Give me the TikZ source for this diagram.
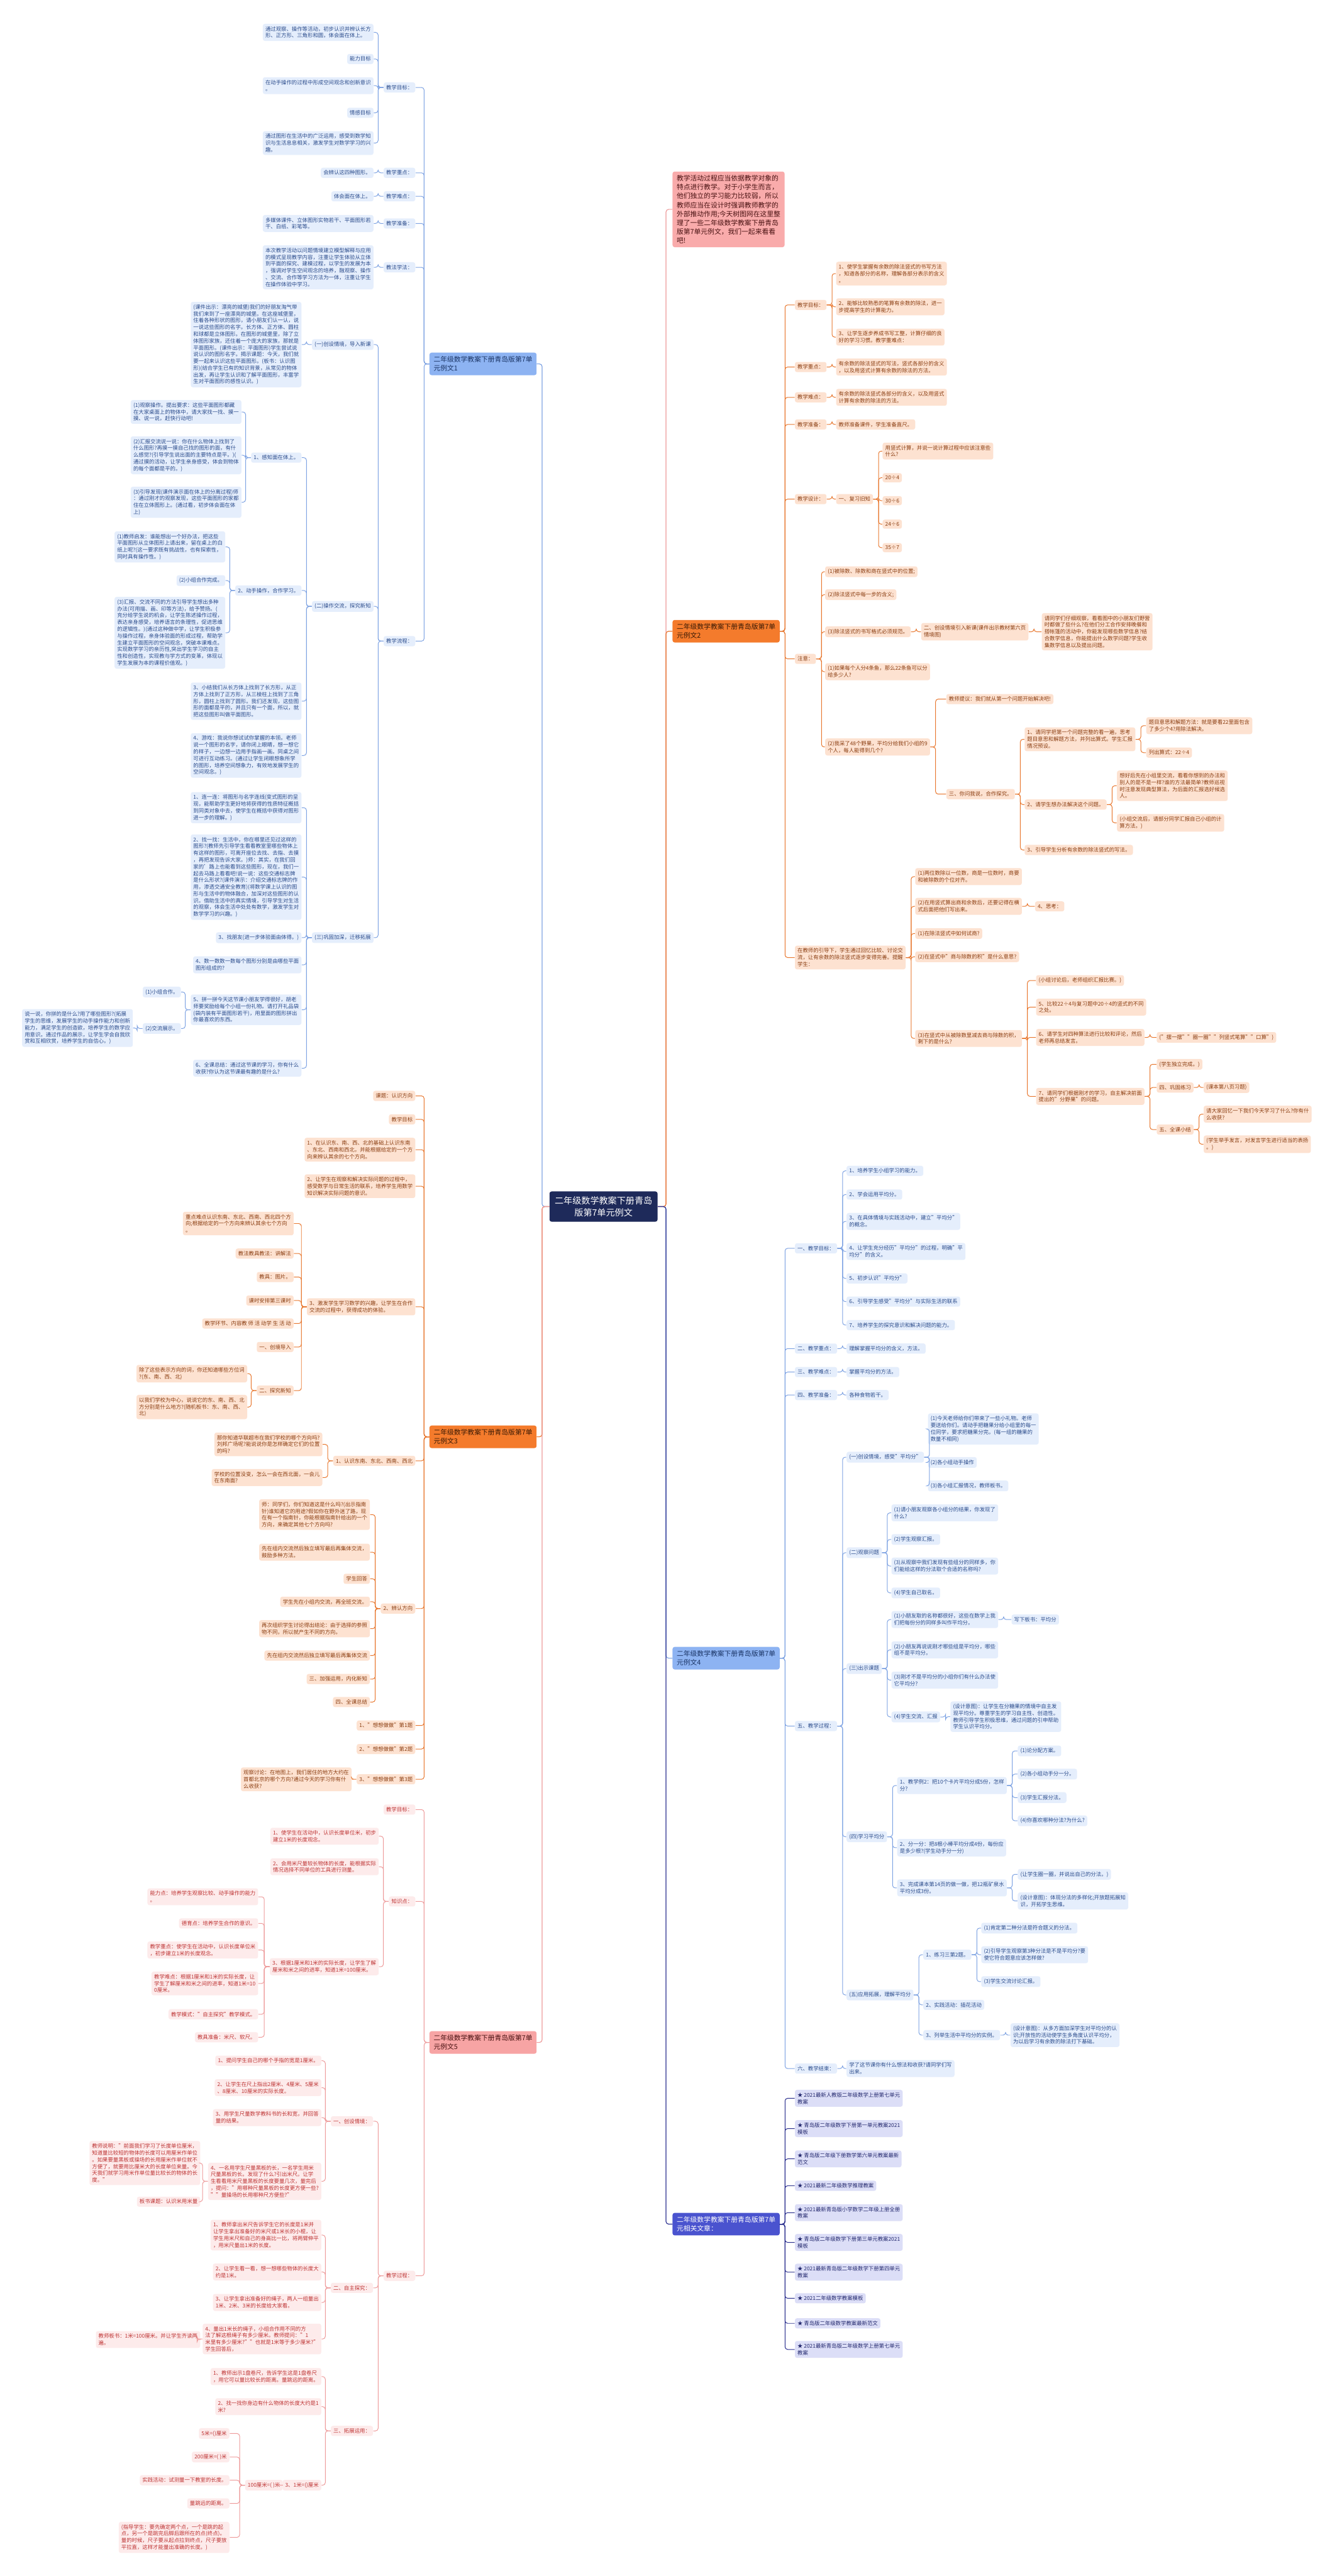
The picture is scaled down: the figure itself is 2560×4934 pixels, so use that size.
\documentclass[tikz,border=0pt]{standalone}
\usepackage{fontspec}
\setmainfont{Noto Sans CJK SC}
\definecolor{blueBr}{HTML}{8DB3F2}
\definecolor{blueBrTxt}{HTML}{1B3566}
\definecolor{blueBox}{HTML}{E5EEFC}
\definecolor{blueTxt}{HTML}{2B4C8C}
\definecolor{blueLn}{HTML}{7EA3E3}
\definecolor{orBr}{HTML}{F47B2C}
\definecolor{orBrTxt}{HTML}{3A1A05}
\definecolor{orBox}{HTML}{FDE2D1}
\definecolor{orTxt}{HTML}{8B3E12}
\definecolor{orLn}{HTML}{E8772E}
\definecolor{pkBr}{HTML}{F7A4A4}
\definecolor{pkBrTxt}{HTML}{4A1212}
\definecolor{pkBox}{HTML}{FDEBEB}
\definecolor{pkTxt}{HTML}{BE3434}
\definecolor{pkLn}{HTML}{EE9B9B}
\definecolor{vlBr}{HTML}{4A53CF}
\definecolor{vlBox}{HTML}{DCDEF7}
\definecolor{vlTxt}{HTML}{23286E}
\definecolor{vlLn}{HTML}{2A2F8E}
\definecolor{rootBox}{HTML}{1E2A5A}
\definecolor{introBox}{HTML}{F9ABAB}
\newcommand{\nodefont}{\fontsize{10.1pt}{13pt}\selectfont}
\newcommand{\leftlink}[2]{\draw[rounded corners=5pt] (#1.west) -- ++(-10,0) |- (#2.east);}
\newcommand{\rightlink}[2]{\draw[rounded corners=5pt] (#1.east) -- ++(10,0) |- (#2.west);}
\tikzset{
  box/.style={rounded corners=4pt, inner xsep=5pt, inner ysep=5pt, align=left, font=\nodefont},
  lside/.style={box, anchor=east},
  rside/.style={box, anchor=west},
  bl/.style={fill=blueBox, text=blueTxt},
  og/.style={fill=orBox, text=orTxt},
  pk/.style={fill=pkBox, text=pkTxt},
  vl/.style={fill=vlBox, text=vlTxt},
  brbox/.style={rounded corners=4pt, inner xsep=8pt, inner ysep=7pt, align=left, font=\fontsize{13pt}{17pt}\selectfont},
  rootbox/.style={rounded corners=4pt, inner sep=10pt, align=center, fill=rootBox, text=white, font=\fontsize{17pt}{22pt}\selectfont},
}
\begin{document}
\begin{tikzpicture}[x=1pt,y=-1pt]
\fill[white] (0,0) rectangle (2560,4934);
\useasboundingbox (0,0) rectangle (2560,4934);
% root and branches
\node[rootbox] (root) at (1156,2311) {二年级数学教案下册青岛\\版第7单元例文};
\node[brbox, anchor=east, fill=blueBr, text=blueBrTxt] (A) at (1028,697) {二年级数学教案下册青岛版第7单\\元例文1};
\node[brbox, anchor=east, fill=orBr, text=orBrTxt] (C) at (1028,2752) {二年级数学教案下册青岛版第7单\\元例文3};
\node[brbox, anchor=east, fill=pkBr, text=pkBrTxt] (E) at (1028,3912) {二年级数学教案下册青岛版第7单\\元例文5};
\node[brbox, anchor=west, fill=introBox, text=pkBrTxt] (I) at (1288,401) {教学活动过程应当依据教学对象的\\特点进行教学。对于小学生而言，\\他们独立的学习能力比较弱，所以\\教师应当在设计时强调教师教学的\\外部推动作用;今天树图网在这里整\\理了一些二年级数学教案下册青岛\\版第7单元例文，我们一起来看看\\吧!};
\node[brbox, anchor=west, fill=orBr, text=orBrTxt] (B) at (1288,1209) {二年级数学教案下册青岛版第7单\\元例文2};
\node[brbox, anchor=west, fill=blueBr, text=blueBrTxt] (D) at (1288,3176) {二年级数学教案下册青岛版第7单\\元例文4};
\node[brbox, anchor=west, fill=vlBr, text=white] (F) at (1288,4260) {二年级数学教案下册青岛版第7单\\元相关文章：};
\begin{scope}[line width=1.4pt]
\draw[blueLn, rounded corners=5pt] (root.west) -- ++(-14,0) |- (A.east);
\draw[orLn, rounded corners=5pt] (root.west) -- ++(-14,0) |- (C.east);
\draw[pkLn, rounded corners=5pt] (root.west) -- ++(-14,0) |- (E.east);
\draw[pkLn, rounded corners=5pt] (root.east) -- ++(16,0) |- (I.west);
\draw[orLn, rounded corners=5pt] (root.east) -- ++(16,0) |- (B.west);
\draw[blueLn, rounded corners=5pt] (root.east) -- ++(16,0) |- (D.west);
\draw[vlLn, rounded corners=5pt] (root.east) -- ++(16,0) |- (F.west);
\end{scope}

% example 1
\begin{scope}[color=blueLn, line width=1.2pt]
\node[lside,bl] (a1) at (796,167.5) {教学目标：};
\node[lside,bl] (a11) at (716,62) {通过观察、操作等活动，初步认识并辨认长方\\形、正方形、三角形和圆，体会面在体上。};
\node[lside,bl] (a12) at (716,113) {能力目标};
\node[lside,bl] (a13) at (716,164) {在动手操作的过程中形成空间观念和创新意识\\。};
\node[lside,bl] (a14) at (716,216) {情感目标};
\node[lside,bl] (a15) at (716,274) {通过图形在生活中的广泛运用，感受到数学知\\识与生活息息相关，激发学生对数学学习的兴\\趣。};
\node[lside,bl] (a2) at (796,331) {教学重点：};
\node[lside,bl] (a21) at (716,331) {会辨认这四种图形。};
\node[lside,bl] (a3) at (796,376) {教学难点：};
\node[lside,bl] (a31) at (716,376) {体会面在体上。};
\node[lside,bl] (a4) at (796,428) {教学准备：};
\node[lside,bl] (a41) at (716,428) {多媒体课件、立体图形实物若干、平面图形若\\干、白纸、彩笔等。};
\node[lside,bl] (a5) at (796,512) {教法学法：};
\node[lside,bl] (a51) at (716,512) {本次教学活动以问题情境建立模型解释与应用\\的模式呈现教学内容，注重让学生体验从立体\\到平面的探究、建模过程，以学生的发展为本\\，强调对学生空间观念的培养，融观察、操作\\、交流、合作等学习方法为一体，注重让学生\\在操作体验中学习。};
\node[lside,bl] (a6) at (796,1228) {教学流程：};
\node[lside,bl] (a61) at (716,660) {(一)创设情境，导入新课};
\node[lside,bl] (a611) at (578,660) {(课件出示：漂亮的城堡)我们的好朋友淘气带\\我们来到了一座漂亮的城堡。在这座城堡里，\\住着各种形状的图形，请小朋友们认一认，说\\一说这些图形的名字。长方体、正方体、圆柱\\和球都是立体图形。在图形的城堡里，除了立\\体图形家族，还住着一个庞大的家族，那就是\\平面图形。(课件出示：平面图形)学生尝试说\\说认识的图形名字。揭示课题：今天，我们就\\要一起来认识这些平面图形。(板书：认识图\\形)(结合学生已有的知识背景，从常见的物体\\出发，再让学生认识和了解平面图形，丰富学\\生对平面图形的感性认识。)};
\node[lside,bl] (a62) at (716,1161.5) {(二)操作交流，探究新知};
\node[lside,bl] (a621) at (578,876.5) {1、感知面在体上。};
\node[lside,bl] (a6211) at (463,789) {(1)观察操作。提出要求：这些平面图形都藏\\在大家桌面上的物体中，请大家找一找、摸一\\摸、说一说，赶快行动吧!};
\node[lside,bl] (a6212) at (463,872) {(2)汇报交流说一说：你在什么物体上找到了\\什么图形?再摸一摸自己找的图形的面，有什\\么感觉?(引导学生说出面的主要特点是平。)(\\通过摸的活动，让学生亲身感受，体会到物体\\的每个面都是平的。)};
\node[lside,bl] (a6213) at (463,962) {(3)引导发现(课件演示面在体上的分离过程)师\\：通过刚才的观察发现，这些平面图形的家都\\住在立体图形上。(通过看，初步体会面在体\\上)};
\node[lside,bl] (a622) at (578,1131) {2、动手操作，合作学习。};
\node[lside,bl] (a6221) at (432,1047.5) {(1)教师启发：谁能想出一个好办法，把这些\\平面图形从立体图形上请出来，留在桌上的白\\纸上呢?(这一要求既有挑战性，也有探索性，\\同时具有操作性。)};
\node[lside,bl] (a6222) at (432,1112) {(2)小组合作完成。};
\node[lside,bl] (a6223) at (432,1212) {(3)汇报、交流不同的方法引导学生想出多种\\办法(可用描、画、印等方法)，给予赞扬。(\\充分给学生说的机会，让学生陈述操作过程，\\表达亲身感受，培养语言的条理性，促进思维\\的逻辑性。)(通过这种做中学，让学生积极参\\与操作过程，亲身体验面的形成过程，帮助学\\生建立平面图形的空间观念，突破本课难点。\\实现数学学习的亲历性,突出学生学习的自主\\性和创造性，实现教与学方式的变革，体现以\\学生发展为本的课程价值观。)};
\node[lside,bl] (a623) at (578,1343) {3、小结我们从长方体上找到了长方形，从正\\方体上找到了正方形，从三棱柱上找到了三角\\形，圆柱上找到了圆形。我们还发现，这些图\\形的面都是平的，并且只有一个面，所以，就\\把这些图形叫做平面图形。};
\node[lside,bl] (a624) at (578,1447) {4、游戏：我说你想试试你掌握的本领。老师\\说一个图形的名字，请你闭上眼睛，想一想它\\的样子，一边想一边用手指画一画。同桌之间\\可进行互动练习。(通过让学生闭眼想象所学\\的图形，培养空间想象力，有效地发展学生的\\空间观念。)};
\node[lside,bl] (a63) at (716,1796) {(三)巩固加深，迁移拓展};
\node[lside,bl] (a631) at (578,1547) {1、连一连：将图形与名字连线(变式图形的呈\\现，能帮助学生更好地将获得的性质特征概括\\到同类对象中去，使学生在概括中获得对图形\\进一步的理解。)};
\node[lside,bl] (a632) at (578,1680) {2、找一找：生活中，你在哪里还见过这样的\\图形?(教师先引导学生看看教室里哪些物体上\\有这样的图形，可离开座位去找、去指、去摸\\，再把发现告诉大家。)师：其实，在我们回\\家的'路上也能看到这些图形，现在，我们一\\起去马路上看看吧!说一说：这些交通标志牌\\是什么形状?(课件演示：介绍交通标志牌的作\\用，渗透交通安全教育)(将数学课上认识的图\\形与生活中的物体融合，加深对这些图形的认\\识。借助生活中的真实情境，引导学生对生活\\的观察，体会生活中处处有数学，激发学生对\\数学学习的兴趣。)};
\node[lside,bl] (a633) at (578,1796) {3、找朋友(进一步体验面由体得。)};
\node[lside,bl] (a634) at (578,1848) {4、数一数数一数每个图形分别是由哪些平面\\图形组成的?};
\node[lside,bl] (a635) at (578,1934) {5、拼一拼今天这节课小朋友学得很好，胡老\\师要奖励给每个小组一份礼物。请打开礼品袋\\(袋内装有平面图形若干)，用里面的图形拼出\\你最喜欢的东西。};
\node[lside,bl] (a6351) at (347,1900) {(1)小组合作。};
\node[lside,bl] (a6352) at (347,1970) {(2)交流展示。};
\node[lside,bl] (a63521) at (255,1969) {说一说，你拼的是什么?用了哪些图形?(拓展\\学生的思维，发展学生的动手操作能力和创新\\能力，满足学生的创造欲，培养学生的数学应\\用意识。通过作品的展示，让学生学会自我欣\\赏和互相欣赏，培养学生的自信心。)};
\node[lside,bl] (a636) at (578,2046) {6、全课总结：通过这节课的学习，你有什么\\收获?你认为这节课最有趣的是什么?};
\leftlink{A}{a1} \leftlink{A}{a2} \leftlink{A}{a3} \leftlink{A}{a4} \leftlink{A}{a5} \leftlink{A}{a6}
\leftlink{a1}{a11} \leftlink{a1}{a12} \leftlink{a1}{a13} \leftlink{a1}{a14} \leftlink{a1}{a15}
\leftlink{a2}{a21} \leftlink{a3}{a31} \leftlink{a4}{a41} \leftlink{a5}{a51}
\leftlink{a6}{a61} \leftlink{a6}{a62} \leftlink{a6}{a63}
\leftlink{a61}{a611}
\leftlink{a62}{a621} \leftlink{a62}{a622} \leftlink{a62}{a623} \leftlink{a62}{a624}
\leftlink{a621}{a6211} \leftlink{a621}{a6212} \leftlink{a621}{a6213}
\leftlink{a622}{a6221} \leftlink{a622}{a6222} \leftlink{a622}{a6223}
\leftlink{a63}{a631} \leftlink{a63}{a632} \leftlink{a63}{a633} \leftlink{a63}{a634} \leftlink{a63}{a635} \leftlink{a63}{a636}
\leftlink{a635}{a6351} \leftlink{a635}{a6352} \leftlink{a6352}{a63521}
\end{scope}

% example 3
\begin{scope}[color=orLn, line width=1.2pt]
\node[lside,og] (c1) at (796,2099) {课题：认识方向};
\node[lside,og] (c2) at (796,2144) {教学目标};
\node[lside,og] (c3) at (796,2202) {1、在认识东、南、西、北的基础上认识东南\\、东北、西南和西北，并能根据给定的一个方\\向来辨认其余的七个方向。};
\node[lside,og] (c4) at (796,2272) {2、让学生在观察和解决实际问题的过程中，\\感受数学与日常生活的联系，培养学生用数学\\知识解决实际问题的意识。};
\node[lside,og] (c5) at (796,2503) {3、激发学生学习数学的兴趣，让学生在合作\\交流的过程中，获得成功的体验。};
\node[lside,og] (c51) at (563,2343.5) {重点难点认识东南、东北、西南、西北四个方\\向;根据给定的一个方向来辨认其余七个方向\\。};
\node[lside,og] (c52) at (563,2401) {教法教具教法：讲解法};
\node[lside,og] (c53) at (563,2446) {教具：图片。};
\node[lside,og] (c54) at (563,2491) {课时安排第三课时};
\node[lside,og] (c55) at (563,2535) {教学环节、内容教 师 活 动学 生 活 动};
\node[lside,og] (c56) at (563,2580) {一、创境导入};
\node[lside,og] (c57) at (563,2663.5) {二、探究新知};
\node[lside,og] (c571) at (474,2631) {除了这些表示方向的词，你还知道哪些方位词\\?(东、南、西、北)};
\node[lside,og] (c572) at (474,2695) {以我们学校为中心，说说它的东、南、西、北\\方分别是什么地方?(随机板书：东、南、西、\\北)};
\node[lside,og] (c6) at (796,2798) {1、认识东南、东北、西南、西北};
\node[lside,og] (c61) at (618,2766.5) {那你知道华联超市在我们学校的哪个方向吗?\\刘邦广场呢?能说说你是怎样确定它们的位置\\的吗?};
\node[lside,og] (c62) at (618,2830) {学校的位置没变，怎么一会在西北面，一会儿\\在东南面?};
\node[lside,og] (c7) at (796,3081) {2、辨认方向};
\node[lside,og] (c71) at (709,2901) {师：同学们，你们知道这是什么吗?(出示指南\\针)谁知道它的用途?假如你在野外迷了路，现\\在有一个指南针，你能根据指南针给出的一个\\方向，来确定其他七个方向吗?};
\node[lside,og] (c72) at (709,2973) {先在组内交流然后独立填写最后再集体交流，\\鼓励多种方法。};
\node[lside,og] (c73) at (709,3024) {学生回答};
\node[lside,og] (c74) at (709,3068) {学生先在小组内交流，再全班交流。};
\node[lside,og] (c75) at (709,3119.5) {再次组织学生讨论得出结论：由于选择的参照\\物不同，所以就产生不同的方向。};
\node[lside,og] (c76) at (709,3171) {先在组内交流然后独立填写最后再集体交流};
\node[lside,og] (c77) at (709,3216) {三、加强运用，内化新知};
\node[lside,og] (c78) at (709,3260) {四、全课总结};
\node[lside,og] (c8) at (796,3305) {1、"想想做做"第1题};
\node[lside,og] (c9) at (796,3350) {2、"想想做做"第2题};
\node[lside,og] (c10) at (796,3408) {3、"想想做做"第3题};
\node[lside,og] (c101) at (674,3408) {观察讨论：在地图上，我们居住的地方大约在\\首都北京的哪个方向?通过今天的学习你有什\\么收获?};
\leftlink{C}{c1} \leftlink{C}{c2} \leftlink{C}{c3} \leftlink{C}{c4} \leftlink{C}{c5}
\leftlink{C}{c6} \leftlink{C}{c7} \leftlink{C}{c8} \leftlink{C}{c9} \leftlink{C}{c10}
\leftlink{c5}{c51} \leftlink{c5}{c52} \leftlink{c5}{c53} \leftlink{c5}{c54} \leftlink{c5}{c55} \leftlink{c5}{c56} \leftlink{c5}{c57}
\leftlink{c57}{c571} \leftlink{c57}{c572}
\leftlink{c6}{c61} \leftlink{c6}{c62}
\leftlink{c7}{c71} \leftlink{c7}{c72} \leftlink{c7}{c73} \leftlink{c7}{c74} \leftlink{c7}{c75} \leftlink{c7}{c76} \leftlink{c7}{c77} \leftlink{c7}{c78}
\leftlink{c10}{c101}
\end{scope}

% example 5
\begin{scope}[color=pkLn, line width=1.2pt]
\node[lside,pk] (e1) at (796,3466) {教学目标：};
\node[lside,pk] (e2) at (796,3642) {知识点：};
\node[lside,pk] (e21) at (726,3517) {1、使学生在活动中，认识长度单位米，初步\\建立1米的长度观念。};
\node[lside,pk] (e22) at (726,3575.5) {2、会用米尺量较长物体的长度，能根据实际\\情况选择不同单位的工具进行测量。};
\node[lside,pk] (e23) at (726,3767) {3、根据1厘米和1米的实际长度，让学生了解\\厘米和米之间的进率，知道1米=100厘米。};
\node[lside,pk] (e231) at (495,3633) {能力点：培养学生观察比较、动手操作的能力\\。};
\node[lside,pk] (e232) at (495,3684) {德育点：培养学生合作的意识。};
\node[lside,pk] (e233) at (495,3735) {教学重点：使学生在活动中，认识长度单位米\\，初步建立1米的长度观念。};
\node[lside,pk] (e234) at (495,3799) {教学难点：根据1厘米和1米的实际长度，让\\学生了解厘米和米之间的进率，知道1米=10\\0厘米。};
\node[lside,pk] (e235) at (495,3858) {教学模式："自主探究"教学模式。};
\node[lside,pk] (e236) at (495,3902) {教具准备：米尺、软尺。};
\node[lside,pk] (e3) at (796,4359) {教学过程：};
\node[lside,pk] (e31) at (715,4063) {一、创设情境：};
\node[lside,pk] (e311) at (616,3947) {1、提问学生自己的哪个手指的宽是1厘米。};
\node[lside,pk] (e312) at (616,3998.6) {2、让学生在尺上指出2厘米、4厘米、5厘米\\、8厘米、10厘米的实际长度。};
\node[lside,pk] (e313) at (616,4056) {3、用学生尺量数学教科书的长和宽，并回答\\量的结果。};
\node[lside,pk] (e314) at (616,4178) {4、一名用学生尺量黑板的长，一名学生用米\\尺量黑板的长。发现了什么?引出米尺。让学\\生看看用米尺量黑板的长度要量几次，量完后\\，提问："用哪种尺量黑板的长度更方便一些?\\""量操场的长用哪种尺方便些?"};
\node[lside,pk] (e3141) at (384,4143) {教师说明："前面我们学习了长度单位厘米，\\知道量比较短的物体的长度可以用厘米作单位\\。如果要量黑板或操场的长用厘米作单位就不\\方便了，就要用比厘米大的长度单位来量。今\\天我们就学习用米作单位量比较长的物体的长\\度。"};
\node[lside,pk] (e3142) at (384,4217) {板书课题：认识米用米量};
\node[lside,pk] (e32) at (715,4382) {二、自主探究：};
\node[lside,pk] (e321) at (616,4281) {1、教师拿出米尺告诉学生它的长度是1米并\\让学生拿出准备好的米尺或1米长的小棍，让\\学生用米尺和自己的身高比一比，将两臂伸平\\，用米尺量出1米的长度。};
\node[lside,pk] (e322) at (616,4351.6) {2、让学生看一看，想一想哪些物体的长度大\\约是1米。};
\node[lside,pk] (e323) at (616,4410) {3、让学生拿出准备好的绳子，两人一组量出\\1米、2米、3米的长度给大家看。};
\node[lside,pk] (e324) at (616,4480) {4、量出1米长的绳子，小组合作用不同的方\\法了解这根绳子有多少厘米。教师提问："1\\米里有多少厘米?""也就是1米等于多少厘米?"\\学生回答后，};
\node[lside,pk] (e3241) at (384,4481) {教师板书：1米=100厘米。并让学生齐读两\\遍。};
\node[lside,pk] (e33) at (715,4656) {三、拓展运用：};
\node[lside,pk] (e331) at (616,4552) {1、教师出示1盘卷尺，告诉学生这是1盘卷尺\\，用它可以量比较长的距离。量跳远的距离。};
\node[lside,pk] (e332) at (616,4609.6) {2、找一找你身边有什么物体的长度大约是1\\米?};
\node[lside,pk] (e333) at (616,4760) {3、1米=()厘米};
\node[lside,pk] (e3331) at (542,4760) {100厘米=( )米};
\node[lside,pk] (e33311) at (440,4661) {5米=()厘米};
\node[lside,pk] (e33312) at (440,4706) {200厘米=( )米};
\node[lside,pk] (e33313) at (440,4750.5) {实践活动：试测量一下教室的长度。};
\node[lside,pk] (e33314) at (440,4795) {量跳远的距离。};
\node[lside,pk] (e33315) at (440,4860) {(指导学生：要先确定两个点，一个是跳的起\\点，另一个是跳完后脚后跟所在的点(终点)。\\量的时候，尺子要从起点拉到终点，尺子要放\\平拉直，这样才能量出准确的长度。)};
\leftlink{E}{e1} \leftlink{E}{e2} \leftlink{E}{e3}
\leftlink{e2}{e21} \leftlink{e2}{e22} \leftlink{e2}{e23}
\leftlink{e23}{e231} \leftlink{e23}{e232} \leftlink{e23}{e233} \leftlink{e23}{e234} \leftlink{e23}{e235} \leftlink{e23}{e236}
\leftlink{e3}{e31} \leftlink{e3}{e32} \leftlink{e3}{e33}
\leftlink{e31}{e311} \leftlink{e31}{e312} \leftlink{e31}{e313} \leftlink{e31}{e314}
\leftlink{e314}{e3141} \leftlink{e314}{e3142}
\leftlink{e32}{e321} \leftlink{e32}{e322} \leftlink{e32}{e323} \leftlink{e32}{e324}
\leftlink{e324}{e3241}
\leftlink{e33}{e331} \leftlink{e33}{e332} \leftlink{e33}{e333}
\leftlink{e333}{e3331}
\leftlink{e3331}{e33311} \leftlink{e3331}{e33312} \leftlink{e3331}{e33313} \leftlink{e3331}{e33314} \leftlink{e3331}{e33315}
\end{scope}

% example 2
\begin{scope}[color=orLn, line width=1.2pt]
\node[rside,og] (b1) at (1522,584) {教学目标：};
\node[rside,og] (b11) at (1601,524) {1、使学生掌握有余数的除法竖式的书写方法\\，知道各部分的名称，理解各部分表示的含义\\。};
\node[rside,og] (b12) at (1601,587.6) {2、能够比较熟悉的笔算有余数的除法，进一\\步提高学生的计算能力。};
\node[rside,og] (b13) at (1601,645.7) {3、让学生逐步养成书写工整，计算仔细的良\\好的学习习惯。教学重难点：};
\node[rside,og] (b2) at (1522,703) {教学重点：};
\node[rside,og] (b21) at (1601,703) {有余数的除法竖式的写法，竖式各部分的含义\\，以及用竖式计算有余数的除法的方法。};
\node[rside,og] (b3) at (1522,761) {教学难点：};
\node[rside,og] (b31) at (1601,761) {有余数的除法竖式各部分的含义，以及用竖式\\计算有余数的除法的方法。};
\node[rside,og] (b4) at (1522,813) {教学准备：};
\node[rside,og] (b41) at (1601,813) {教师准备课件，学生准备直尺。};
\node[rside,og] (b5) at (1522,956) {教学设计：};
\node[rside,og] (b51) at (1601,956) {一、复习旧知};
\node[rside,og] (b511) at (1690,864) {用竖式计算，并说一说计算过程中应该注意些\\什么?};
\node[rside,og] (b512) at (1690,915) {20÷4};
\node[rside,og] (b513) at (1690,959) {30÷6};
\node[rside,og] (b514) at (1690,1004) {24÷6};
\node[rside,og] (b515) at (1690,1049) {35÷7};
\node[rside,og] (b6) at (1522,1262) {注意：};
\node[rside,og] (b61) at (1580,1095) {(1)被除数、除数和商在竖式中的位置;};
\node[rside,og] (b62) at (1580,1139) {(2)除法竖式中每一步的含义;};
\node[rside,og] (b63) at (1580,1210) {(3)除法竖式的书写格式必须规范。};
\node[rside,og] (b631) at (1764,1210) {二、创设情境引入新课(课件出示教材第六页\\情境图)};
\node[rside,og] (b6311) at (1995,1210) {请同学们仔细观察，看看图中的小朋友们野营\\时都做了些什么?在他们分工合作安排晚餐和\\搭帐篷的活动中，你能发现哪些数学信息?结\\合数学信息，你能提出什么数学问题?学生收\\集数学信息以及提出问题。};
\node[rside,og] (b64) at (1580,1286.6) {(1)如果每个人分4条鱼，那么22条鱼可以分\\给多少人?};
\node[rside,og] (b65) at (1580,1430.7) {(2)我采了48个野果，平均分给我们小组的9\\个人，每人能得到几个?};
\node[rside,og] (b651) at (1812,1339) {教师提议：我们就从第一个问题开始解决吧!};
\node[rside,og] (b652) at (1812,1521) {三、你问我说，合作探究。};
\node[rside,og] (b6521) at (1962,1416) {1、请同学把第一个问题完整的看一遍，思考\\题目意思和解题方法，并列出算式。学生汇报\\情况预设。};
\node[rside,og] (b65211) at (2195,1390) {题目意思和解题方法：就是要看22里面包含\\了多少个4?用除法解决。};
\node[rside,og] (b65212) at (2195,1441.6) {列出算式：22÷4};
\node[rside,og] (b6522) at (1962,1541) {2、请学生想办法解决这个问题。};
\node[rside,og] (b65221) at (2139,1505) {想好后先在小组里交流，看看你想到的办法和\\别人的是不是一样?谁的方法最简单?教师巡视\\时注意发现典型算法，为后面的汇报选好候选\\人。};
\node[rside,og] (b65222) at (2139,1576) {(小组交流后，请部分同学汇报自己小组的计\\算方法。)};
\node[rside,og] (b6523) at (1962,1628) {3、引导学生分析有余数的除法竖式的写法。};
\node[rside,og] (b7) at (1522,1834) {在教师的引导下，学生通过回忆比较、讨论交\\流，让有余数的除法竖式逐步变得完善。提醒\\学生：};
\node[rside,og] (b71) at (1752.5,1679) {(1)两位数除以一位数，商是一位数时，商要\\和被除数的个位对齐。};
\node[rside,og] (b72) at (1752.5,1736) {(2)在用竖式算出商和余数后，还要记得在横\\式后面把他们写出来。};
\node[rside,og] (b721) at (1982,1736) {4、思考：};
\node[rside,og] (b73) at (1752.5,1788) {(1)在除法竖式中如何试商?};
\node[rside,og] (b74) at (1752.5,1832.5) {(2)在竖式中"商与除数的积"是什么意思?};
\node[rside,og] (b75) at (1752.5,1989) {(3)在竖式中从被除数里减去商与除数的积，\\剩下的是什么?};
\node[rside,og] (b751) at (1984,1878) {(小组讨论后，老师组织汇报比赛。)};
\node[rside,og] (b752) at (1984,1929) {5、比较22÷4与复习题中20÷4的竖式的不同\\之处。};
\node[rside,og] (b753) at (1984,1987) {6、请学生对四种算法进行比较和评论，然后\\老师再总结发言。};
\node[rside,og] (b7531) at (2215,1987) {("摆一摆""圈一圈""列竖式笔算""口算")};
\node[rside,og] (b754) at (1984,2100) {7、请同学们根据刚才的学习，自主解决前面\\提出的"分野果"的问题。};
\node[rside,og] (b7541) at (2215,2038.5) {(学生独立完成。)};
\node[rside,og] (b7542) at (2215,2083) {四、巩固练习};
\node[rside,og] (b75421) at (2305,2083) {(课本第八页习题)};
\node[rside,og] (b7543) at (2215,2163.5) {五、全课小结};
\node[rside,og] (b75431) at (2305,2134) {请大家回忆一下我们今天学习了什么?你有什\\么收获?};
\node[rside,og] (b75432) at (2305,2191.6) {(学生举手发言，对发言学生进行适当的表扬\\。)};
\rightlink{B}{b1} \rightlink{B}{b2} \rightlink{B}{b3} \rightlink{B}{b4} \rightlink{B}{b5} \rightlink{B}{b6} \rightlink{B}{b7}
\rightlink{b1}{b11} \rightlink{b1}{b12} \rightlink{b1}{b13}
\rightlink{b2}{b21} \rightlink{b3}{b31} \rightlink{b4}{b41} \rightlink{b5}{b51}
\rightlink{b51}{b511} \rightlink{b51}{b512} \rightlink{b51}{b513} \rightlink{b51}{b514} \rightlink{b51}{b515}
\rightlink{b6}{b61} \rightlink{b6}{b62} \rightlink{b6}{b63} \rightlink{b6}{b64} \rightlink{b6}{b65}
\rightlink{b63}{b631} \rightlink{b631}{b6311}
\rightlink{b65}{b651} \rightlink{b65}{b652}
\rightlink{b652}{b6521} \rightlink{b652}{b6522} \rightlink{b652}{b6523}
\rightlink{b6521}{b65211} \rightlink{b6521}{b65212}
\rightlink{b6522}{b65221} \rightlink{b6522}{b65222}
\rightlink{b7}{b71} \rightlink{b7}{b72} \rightlink{b7}{b73} \rightlink{b7}{b74} \rightlink{b7}{b75}
\rightlink{b72}{b721}
\rightlink{b75}{b751} \rightlink{b75}{b752} \rightlink{b75}{b753} \rightlink{b75}{b754}
\rightlink{b753}{b7531}
\rightlink{b754}{b7541} \rightlink{b754}{b7542} \rightlink{b754}{b7543}
\rightlink{b7542}{b75421}
\rightlink{b7543}{b75431} \rightlink{b7543}{b75432}
\end{scope}

% example 4
\begin{scope}[color=blueLn, line width=1.2pt]
\node[rside,bl] (d1) at (1522,2391) {一、教学目标：};
\node[rside,bl] (d11) at (1621,2242.6) {1、培养学生小组学习的能力。};
\node[rside,bl] (d12) at (1621,2288) {2、学会运用平均分。};
\node[rside,bl] (d13) at (1621,2339.5) {3、在具体情境与实践活动中，建立"平均分"\\的概念。};
\node[rside,bl] (d14) at (1621,2397) {4、让学生充分经历"平均分"的过程，明确"平\\均分"的含义。};
\node[rside,bl] (d15) at (1621,2448.6) {5、初步认识"平均分"};
\node[rside,bl] (d16) at (1621,2493) {6、引导学生感受"平均分"与实际生活的联系};
\node[rside,bl] (d17) at (1621,2538) {7、培养学生的探究意识和解决问题的能力。};
\node[rside,bl] (d2) at (1522,2583) {二、教学重点：};
\node[rside,bl] (d21) at (1621,2583) {理解掌握平均分的含义，方法。};
\node[rside,bl] (d3) at (1522,2628) {三、教学难点：};
\node[rside,bl] (d31) at (1621,2628) {掌握平均分的方法。};
\node[rside,bl] (d4) at (1522,2672) {四、教学准备：};
\node[rside,bl] (d41) at (1621,2672) {各种食物若干。};
\node[rside,bl] (d5) at (1522,3306) {五、教学过程：};
\node[rside,bl] (d51) at (1621,2791) {(一)创设情境，感受"平均分"};
\node[rside,bl] (d511) at (1777,2737) {(1)今天老师给你们带来了一些小礼物。老师\\要送给你们。请动手把糖果分给小组里的每一\\位同学，要求把糖果分完。(每一组的糖果的\\数量不相同)};
\node[rside,bl] (d512) at (1777,2801) {(2)各小组动手操作};
\node[rside,bl] (d513) at (1777,2846) {(3)各小组汇报情况，教师板书。};
\node[rside,bl] (d52) at (1621,2974) {(二)观察问题};
\node[rside,bl] (d521) at (1707,2897.6) {(1)请小朋友观察各小组分的结果，你发现了\\什么?};
\node[rside,bl] (d522) at (1707,2948.6) {(2)学生观察汇报。};
\node[rside,bl] (d523) at (1707,2999.6) {(3)从观察中我们发现有些组分的同样多，你\\们能给这样的分法取个合适的名称吗?};
\node[rside,bl] (d524) at (1707,3051) {(4)学生自己取名。};
\node[rside,bl] (d53) at (1621,3196) {(三)出示课题};
\node[rside,bl] (d531) at (1707,3102) {(1)小朋友取的名称都很好，这些在数学上我\\们把每份分的同样多叫作平均分。};
\node[rside,bl] (d5311) at (1937,3102) {写下板书：平均分};
\node[rside,bl] (d532) at (1707,3160) {(2)小朋友再说说刚才哪些组是平均分，哪些\\组不是平均分。};
\node[rside,bl] (d533) at (1707,3218) {(3)刚才不是平均分的小组你们有什么办法使\\它平均分?};
\node[rside,bl] (d534) at (1707,3288.5) {(4)学生交流、汇报};
\node[rside,bl] (d5341) at (1820,3288) {(设计意图)：让学生在分糖果的情境中自主发\\现平均分。尊重学生的学习自主性、创造性。\\教师引导学生积极思维，通过问题的引申帮助\\学生认识平均分。};
\node[rside,bl] (d54) at (1621,3518) {(四)学习平均分};
\node[rside,bl] (d541) at (1718,3420) {1、教学例2：把10个卡片平均分成5份，怎样\\分?};
\node[rside,bl] (d5411) at (1949,3353.6) {(1)论分配方案。};
\node[rside,bl] (d5412) at (1949,3398) {(2)各小组动手分一分。};
\node[rside,bl] (d5413) at (1949,3443) {(3)学生汇报分法。};
\node[rside,bl] (d5414) at (1949,3487.5) {(4)你喜欢哪种分法?为什么?};
\node[rside,bl] (d542) at (1718,3539) {2、分一分：把8根小棒平均分成4份，每份应\\是多少根?(学生动手分一分)};
\node[rside,bl] (d543) at (1718,3616) {3、完成课本第14页的做一做，把12瓶矿泉水\\平均分成3份。};
\node[rside,bl] (d5431) at (1949,3590) {(让学生圈一圈，并说出自己的分法。)};
\node[rside,bl] (d5432) at (1949,3641) {(设计意图)：体现分法的多样化;开放题拓展知\\识，开拓学生思维。};
\node[rside,bl] (d55) at (1621,3821) {(五)应用拓展，理解平均分};
\node[rside,bl] (d551) at (1768,3744) {1、练习三第2题。};
\node[rside,bl] (d5511) at (1879,3693) {(1)肯定第二种分法是符合题义的分法。};
\node[rside,bl] (d5512) at (1879,3744) {(2)引导学生观察第3种分法是不是平均分?要\\使它符合题意应该怎样做?};
\node[rside,bl] (d5513) at (1879,3795.5) {(3)学生交流讨论汇报。};
\node[rside,bl] (d552) at (1768,3840) {2、实践活动：插花活动};
\node[rside,bl] (d553) at (1768,3898) {3、列举生活中平均分的实例。};
\node[rside,bl] (d5531) at (1935,3898) {(设计意图)：从多方面加深学生对平均分的认\\识;开放性的活动使学生多角度认识平均分，\\为以后学习有余数的除法打下基础。};
\node[rside,bl] (d6) at (1522,3962) {六、教学结束：};
\node[rside,bl] (d61) at (1621,3962) {学了这节课你有什么想法和收获?请同学们写\\出来。};
\rightlink{D}{d1} \rightlink{D}{d2} \rightlink{D}{d3} \rightlink{D}{d4} \rightlink{D}{d5} \rightlink{D}{d6}
\rightlink{d1}{d11} \rightlink{d1}{d12} \rightlink{d1}{d13} \rightlink{d1}{d14} \rightlink{d1}{d15} \rightlink{d1}{d16} \rightlink{d1}{d17}
\rightlink{d2}{d21} \rightlink{d3}{d31} \rightlink{d4}{d41} \rightlink{d6}{d61}
\rightlink{d5}{d51} \rightlink{d5}{d52} \rightlink{d5}{d53} \rightlink{d5}{d54} \rightlink{d5}{d55}
\rightlink{d51}{d511} \rightlink{d51}{d512} \rightlink{d51}{d513}
\rightlink{d52}{d521} \rightlink{d52}{d522} \rightlink{d52}{d523} \rightlink{d52}{d524}
\rightlink{d53}{d531} \rightlink{d53}{d532} \rightlink{d53}{d533} \rightlink{d53}{d534}
\rightlink{d531}{d5311} \rightlink{d534}{d5341}
\rightlink{d54}{d541} \rightlink{d54}{d542} \rightlink{d54}{d543}
\rightlink{d541}{d5411} \rightlink{d541}{d5412} \rightlink{d541}{d5413} \rightlink{d541}{d5414}
\rightlink{d543}{d5431} \rightlink{d543}{d5432}
\rightlink{d55}{d551} \rightlink{d55}{d552} \rightlink{d55}{d553}
\rightlink{d551}{d5511} \rightlink{d551}{d5512} \rightlink{d551}{d5513}
\rightlink{d553}{d5531}
\end{scope}

% related articles
\begin{scope}[color=vlLn, line width=1.2pt]
\node[rside,vl] (f1) at (1522,4019) {★ 2021最新人教版二年级数学上册第七单元\\教案};
\node[rside,vl] (f2) at (1522,4077) {★ 青岛版二年级数学下册第一单元教案2021\\模板};
\node[rside,vl] (f3) at (1522,4135) {★ 青岛版二年级下册数学第六单元教案最新\\范文};
\node[rside,vl] (f4) at (1522,4186.5) {★ 2021最新二年级数学推理教案};
\node[rside,vl] (f5) at (1522,4238) {★ 2021最新青岛版小学数学二年级上册全册\\教案};
\node[rside,vl] (f6) at (1522,4295) {★ 青岛版二年级数学下册第三单元教案2021\\模板};
\node[rside,vl] (f7) at (1522,4352) {★ 2021最新青岛版二年级数学下册第四单元\\教案};
\node[rside,vl] (f8) at (1522,4402) {★ 2021二年级数学教案模板};
\node[rside,vl] (f9) at (1522,4450) {★ 青岛版二年级数学教案最新范文};
\node[rside,vl] (f10) at (1522,4500) {★ 2021最新青岛版二年级数学上册第七单元\\教案};
\rightlink{F}{f1} \rightlink{F}{f2} \rightlink{F}{f3} \rightlink{F}{f4} \rightlink{F}{f5}
\rightlink{F}{f6} \rightlink{F}{f7} \rightlink{F}{f8} \rightlink{F}{f9} \rightlink{F}{f10}
\end{scope}
\end{tikzpicture}
\end{document}
